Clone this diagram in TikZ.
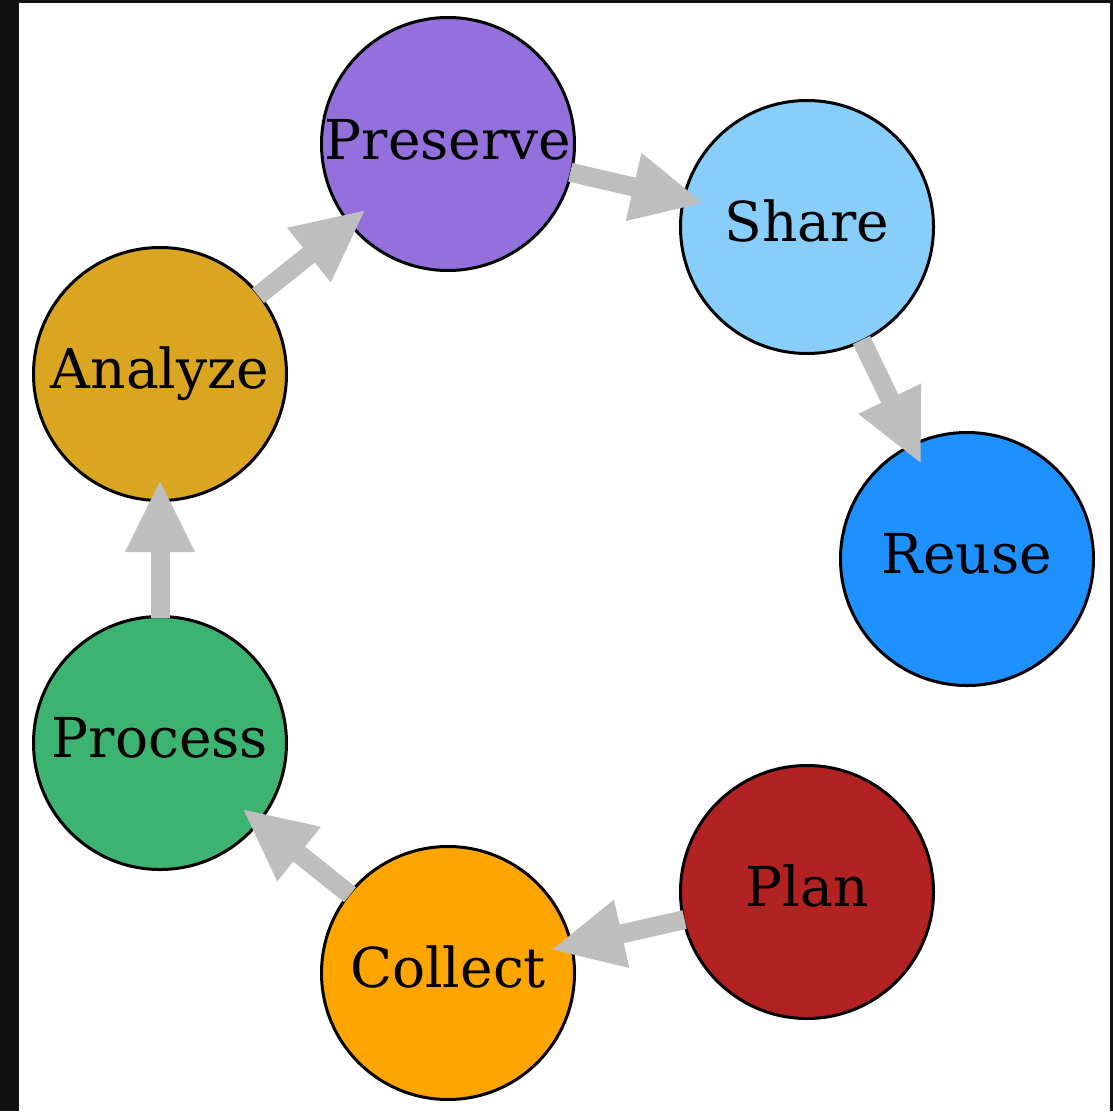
\documentclass[tikz,border=0pt]{standalone}
\usepackage{fontspec}
\setmainfont{DejaVu Serif}
\usetikzlibrary{arrows.meta,calc}
\definecolor{cpres}{HTML}{9370DB}
\definecolor{cshare}{HTML}{87CEFA}
\definecolor{creuse}{HTML}{1E90FF}
\definecolor{cplan}{HTML}{B22222}
\definecolor{ccoll}{HTML}{FFA500}
\definecolor{cproc}{HTML}{3CB371}
\definecolor{canal}{HTML}{DAA520}
\definecolor{arrgray}{HTML}{BEBEBE}
\definecolor{frame}{HTML}{111111}
\tikzset{
  stage/.style={circle, draw=black, line width=3pt, minimum size=253pt, inner sep=0pt, outer sep=0pt},
  stagetext/.style={font=\fontsize{55}{66}\selectfont, text=black, anchor=base, inner sep=0pt},
  flow/.style={draw=arrgray, line width=19pt, -{Triangle[length=73pt,width=64pt]}, shorten <=-1pt}
}
\begin{document}
\begin{tikzpicture}[x=1pt,y=-1pt]
\useasboundingbox (0,0) rectangle (1113,1111);
\fill[frame] (0,0) rectangle (1113,1111);
\fill[white] (19,3) rectangle (1110,1111);
\node[stage, fill=cpres] (pres) at (448,144) {};
\node[stage, fill=cshare] (share) at (807,227) {};
\node[stage, fill=creuse] (reuse) at (967,559) {};
\node[stage, fill=cplan] (plan) at (807,892) {};
\node[stage, fill=ccoll] (coll) at (448,973) {};
\node[stage, fill=cproc] (proc) at (160,743) {};
\node[stage, fill=canal] (anal) at (160,374) {};
\node[stagetext] (presT) at ($(pres.center)+(0,15)$) {Preserve};
\node[stagetext] (shareT) at ($(share.center)+(0,14)$) {Share};
\node[stagetext] (reuseT) at ($(reuse.center)+(0,14)$) {Reuse};
\node[stagetext] (planT) at ($(plan.center)+(0,14)$) {Plan};
\node[stagetext] (collT) at ($(coll.center)+(0,14)$) {Collect};
\node[stagetext] (procT) at ($(proc.center)+(0,14)$) {Process};
\node[stagetext] (analT) at ($(anal.center)+(0,14)$) {Analyze};
\coordinate (t1) at ($(coll.center)!105pt!(plan.center)$);
\coordinate (t2) at ($(proc.center)!105pt!(coll.center)$);
\coordinate (t3) at ($(anal.center)!105pt!(proc.center)$);
\coordinate (t4) at ($(pres.center)!105pt!(anal.center)$);
\coordinate (t5) at ($(share.center)!105pt!(pres.center)$);
\coordinate (t6) at ($(reuse.center)!105pt!(share.center)$);
\draw[flow] (plan) -- (t1);
\draw[flow] (coll) -- (t2);
\draw[flow] (proc) -- (t3);
\draw[flow] (anal) -- (t4);
\draw[flow] (pres) -- (t5);
\draw[flow] (share) -- (t6);
\end{tikzpicture}
\end{document}
